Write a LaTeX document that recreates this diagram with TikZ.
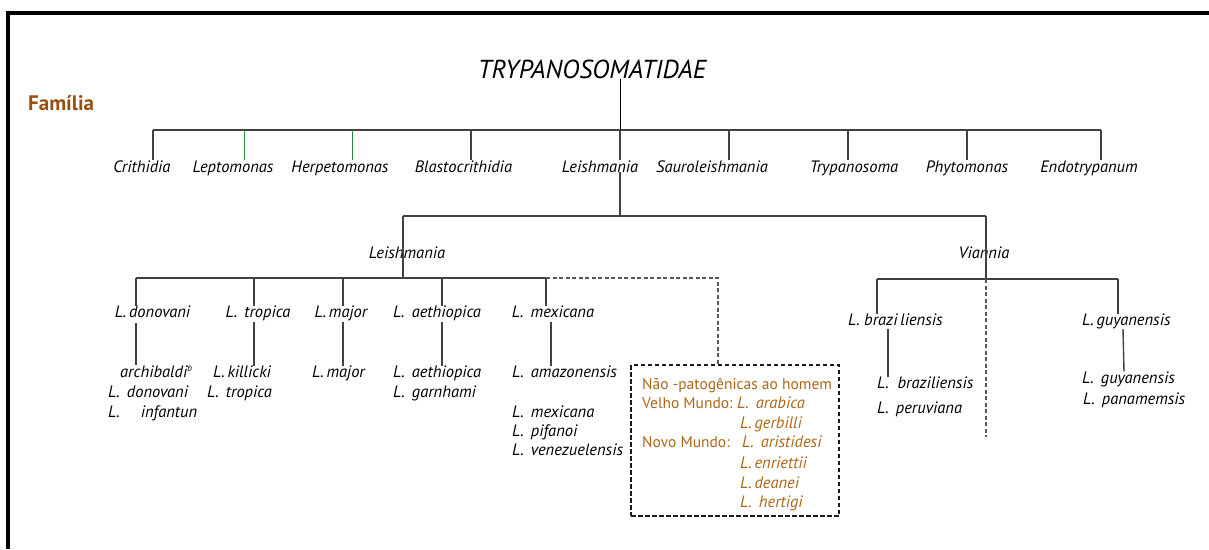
\documentclass[tikz,border=0pt]{standalone}
\usepackage{fontspec}
\setmainfont{PT Sans}
\definecolor{famc}{RGB}{150,80,15}
\definecolor{boxc}{RGB}{172,102,22}
\definecolor{lnc}{RGB}{65,65,65}
\definecolor{grnc}{RGB}{40,140,60}
\begin{document}
\begin{tikzpicture}[x=1pt,y=-1pt,
  lbl/.style={inner sep=0pt,anchor=base,font=\fontsize{16.5}{19}\selectfont\itshape,text=black},
  lw/.style={lbl,anchor=base west},
  btx/.style={inner sep=0pt,anchor=base west,font=\fontsize{15.5}{18}\selectfont,text=boxc},
  bsp/.style={btx,font=\fontsize{16.5}{19}\selectfont\itshape},
  tl/.style={draw=lnc,line width=1.4pt},
  gl/.style={draw=grnc,line width=1pt},
  dl/.style={draw=black!65,line width=1.1pt,dash pattern=on 4pt off 2.5pt},
  boxst/.style={draw=black!90,line width=1.8pt,dash pattern=on 4.5pt off 2.5pt,minimum width=208pt,minimum height=151pt,inner sep=0pt}
]
\useasboundingbox (0,0) rectangle (1209,549);
% frame
\draw[line width=4pt] (7.5,549) -- (7.5,13) -- (1209,13);

% title and family
\node[inner sep=0pt,anchor=base,font=\fontsize{26}{30}\selectfont\itshape,text=black] (root) at (592,78) {TRYPANOSOMATIDAE};
\node[inner sep=0pt,anchor=base west,font=\fontsize{21}{24}\selectfont\bfseries,text=famc] (fam) at (28,110) {Família};

% genera
\node[lbl] (cri) at (142,172) {Crithidia};
\node[lbl] (lep) at (233,172) {Leptomonas};
\node[lbl] (her) at (340,172) {Herpetomonas};
\node[lbl] (bla) at (463.5,172) {Blastocrithidia};
\node[lbl] (lei) at (600,172) {Leishmania};
\node[lbl] (sau) at (712,172) {Sauroleishmania};
\node[lbl] (try) at (854,172) {Trypanosoma};
\node[lbl] (phy) at (967,172) {Phytomonas};
\node[lbl] (end) at (1089,172) {Endotrypanum};

\coordinate (j0) at (620,130);
\coordinate (dcri) at (153,130);
\coordinate (dlep) at (244,130);
\coordinate (dher) at (352,130);
\coordinate (dbla) at (471,130);
\coordinate (dsau) at (729,130);
\coordinate (dtry) at (848,130);
\coordinate (dphy) at (967,130);
\coordinate (dend) at (1101,130);

\draw[draw=black,line width=0.9pt] (root.south -| j0) -- (j0);
\draw[tl] (dcri) -- (dend);
\draw[tl] (dcri) -- (dcri |- cri.north);
\draw[gl] (dlep) -- (dlep |- lep.north);
\draw[gl] (dher) -- (dher |- her.north);
\draw[tl] (dbla) -- (dbla |- bla.north);
\draw[tl] (j0) -- (j0 |- lei.north);
\draw[tl] (dsau) -- (dsau |- sau.north);
\draw[tl] (dtry) -- (dtry |- try.north);
\draw[tl] (dphy) -- (dphy |- phy.north);
\draw[tl] (dend) -- (dend |- end.north);

% subgenera
\node[lbl] (sgl) at (407,258) {Leishmania};
\node[lbl] (sgv) at (984,258) {Viannia};
\coordinate (j1) at (620,216);
\coordinate (j1l) at (403,216);
\coordinate (j1r) at (986,216);
\draw[tl] (j0 |- lei.south) -- (j1);
\draw[tl] (j1l) -- (j1r);
\coordinate (j2) at (403,278);
\coordinate (j3) at (986,279);
\draw[tl] (j1l) -- (j2);
\draw[tl] (j1r) -- (j3);

% Leishmania species
\node[lbl] (sdon) at (152.5,317.5) {L.\,donovani};
\node[lbl] (stro) at (258,317.5) {L.\ \,tropica};
\node[lbl] (smaj) at (341,317.5) {L.\,major};
\node[lbl] (saet) at (437,317.5) {L.\ \,aethiopica};
\node[lbl] (smex) at (553,317.5) {L.\ \,mexicana};

\coordinate (dd1) at (136,278);
\coordinate (dd2) at (254,278);
\coordinate (dd3) at (343,278);
\coordinate (dd4) at (442,278);
\coordinate (dd5) at (546,278);
\coordinate (dd6) at (718,278);
\draw[tl] (dd1) -- (dd5);
\draw[tl] (dd1) -- (dd1 |- sdon.north);
\draw[tl] (dd2) -- (dd2 |- stro.north);
\draw[tl] (dd3) -- (dd3 |- smaj.north);
\draw[tl] (dd4) -- (dd4 |- saet.north);
\draw[tl] (dd5) -- (dd5 |- smex.north);

% subspecies
\node[lw] (archi) at (120,377.5) {archibaldi\raisebox{6pt}{\fontsize{9}{9}\selectfont b}};
\node[lw] (ldon) at (108,397.5) {L.\ \,donovani};
\node[lw] (linf) at (108,417.5) {L.\hspace{21pt}infantun};
\node[lw] (lkil) at (213,377.5) {L.\,killicki};
\node[lw] (ltro) at (207,397.5) {L.\ \,tropica};
\node[lw] (lmaj) at (312,377.5) {L.\,major};
\node[lw] (laet) at (393,377.5) {L.\ \,aethiopica};
\node[lw] (lgar) at (393,397.5) {L.\ \,garnhami};
\node[lw] (lama) at (512,377.5) {L.\ \,amazonensis};
\node[lw] (lmex) at (512,417.5) {L.\ \,mexicana};
\node[lw] (lpif) at (512,436.5) {L.\ \,pifanoi};
\node[lw] (lven) at (512,455.5) {L.\ \,venezuelensis};

\coordinate (e1) at (136,323);
\coordinate (e2) at (254,322);
\coordinate (e3) at (343,322);
\coordinate (e4) at (442,322);
\coordinate (e5) at (551,322);
\draw[tl] (e1) -- (e1 |- archi.north);
\draw[tl] (e2) -- (e2 |- lkil.north);
\draw[tl] (e3) -- (e3 |- lmaj.north);
\draw[tl] (e4) -- (e4 |- laet.north);
\draw[tl] (e5) -- (e5 |- lama.north);

% non-pathogenic box
\node[boxst] (np) at (735,440.5) {};
\draw[dl] (dd5) -- (dd6) -- (dd6 |- np.north);
\node[btx] (np1) at (642,389.5) {Não -patogênicas ao homem};
\node[btx] (np2) at (642,408.5) {Velho Mundo:};
\node[bsp] (np2s) at (737,408.5) {L.\ \,arabica};
\node[bsp] (np3) at (740,428.5) {L.\,gerbilli};
\node[btx] (np4) at (642,447.5) {Novo Mundo:};
\node[bsp] (np4s) at (742,447.5) {L.\ \,aristidesi};
\node[bsp] (np5) at (740,468.5) {L.\,enriettii};
\node[bsp] (np6) at (740,488.5) {L.\,deanei};
\node[bsp] (np7) at (740,507.5) {L.\ \,hertigi};

% Viannia species
\node[lw] (sbra) at (848,325.5) {L.\ brazi\,liensis};
\node[lw] (sguy) at (1082,325.5) {L.\,guyanensis};
\coordinate (v1) at (877,279);
\coordinate (v2) at (1118,279);
\coordinate (vd) at (986,437);
\draw[tl] (v1) -- (v2);
\draw[tl] (v1) -- (v1 |- sbra.north);
\draw[tl] (v2) -- (v2 |- sguy.north);
\draw[dl] (j3) -- (vd);

\node[lw] (lbra) at (877,388.5) {L.\ \ braziliensis};
\node[lw] (lper) at (877,413.5) {L.\ \,peruviana};
\node[lw] (lguy) at (1082,383.5) {L.\ \,guyanensis};
\node[lw] (lpan) at (1083,404.5) {L.\ \,panamemsis};
\coordinate (f1) at (888,329);
\coordinate (f2) at (1123,329);
\draw[tl] (f1) -- (f1 |- lbra.north);
\draw[tl] (f2) -- ([xshift=1pt]f2 |- lguy.north);
\end{tikzpicture}
\end{document}
